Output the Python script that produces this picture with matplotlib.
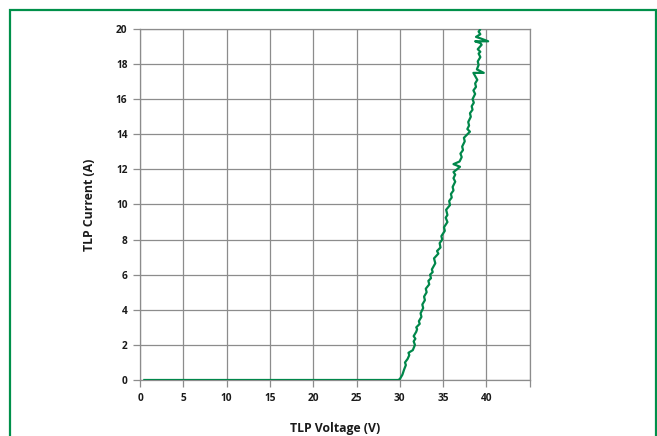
import matplotlib
matplotlib.use("Agg")
import matplotlib.pyplot as plt
from matplotlib.patches import Rectangle

# TLP I-V curve data
voltage = [0.5, 29.8, 30.0, 30.3, 30.5, 30.7, 30.6, 30.9, 31.1, 31.0, 31.5, 31.75, 31.6, 31.8, 31.6,
           31.9, 32.0, 31.9, 32.3, 32.2, 32.5, 32.4, 32.7, 32.6, 32.9, 32.8, 33.1, 33.0, 33.4, 33.3,
           33.6, 33.5, 33.8, 33.7, 34.1, 33.95, 34.45, 34.3, 34.7, 34.6, 34.9, 34.8, 35.2, 35.1, 35.5,
           35.3, 35.5, 35.35, 35.8, 35.7, 36.0, 35.9, 36.2, 36.1, 36.4, 36.2, 36.4, 36.2, 36.6, 36.95,
           36.2, 36.9, 37.15, 37.0, 37.3, 37.2, 37.5, 37.4, 37.7, 38.1, 37.8, 38.0, 37.9, 38.2, 38.1,
           38.4, 38.3, 38.55, 38.4, 38.7, 38.5, 38.8, 38.7, 38.95, 38.5, 39.7, 38.9, 39.1, 39.0, 39.3,
           39.1, 39.3, 39.0, 39.45, 39.3, 38.7, 40.2, 39.4, 38.8, 39.3, 39.1, 39.25]
current = [0.0, 0.0, 0.05, 0.3, 0.6, 0.85, 1.0, 1.2, 1.42, 1.55, 1.7, 2.0, 2.2, 2.35, 2.5,
           2.75, 2.9, 3.0, 3.2, 3.35, 3.6, 3.8, 4.1, 4.3, 4.55, 4.75, 5.0, 5.2, 5.45, 5.65,
           5.8, 6.0, 6.15, 6.3, 6.65, 6.93, 7.2, 7.35, 7.55, 7.8, 8.0, 8.2, 8.5, 8.7, 9.0,
           9.25, 9.4, 9.7, 9.97, 10.2, 10.4, 10.6, 10.8, 11.0, 11.3, 11.5, 11.7, 11.85, 12.0, 12.15,
           12.3, 12.45, 12.7, 12.9, 13.1, 13.3, 13.6, 13.8, 13.95, 14.15, 14.3, 14.5, 14.7, 15.0, 15.2,
           15.4, 15.6, 15.8, 16.0, 16.3, 16.5, 16.7, 16.9, 17.1, 17.5, 17.5, 17.7, 17.95, 18.15, 18.4,
           18.6, 18.7, 18.85, 19.1, 19.2, 19.3, 19.3, 19.45, 19.55, 19.7, 19.85, 19.95]

x_ticks = [0, 5, 10, 15, 20, 25, 30, 35, 40, 45]
x_tick_labels = ["0", "5", "10", "15", "20", "25", "30", "35", "40", ""]
y_ticks = [0, 2, 4, 6, 8, 10, 12, 14, 16, 18, 20]
x_label = "TLP Voltage (V)"
y_label = "TLP Current (A)"

plt.rcParams['font.family'] = ['Open Sans', 'DejaVu Sans']

W, H = 657, 436
fig = plt.figure(figsize=(W / 100, H / 100), dpi=100)
ax = fig.add_axes([140 / W, 1 - 380 / H, (529.7 - 140) / W, (380 - 29) / H])

grid_col = '#8c8c8c'
line_col = '#00874a'

ax.plot(voltage, current, color=line_col, lw=1.6, solid_joinstyle='round', zorder=3)

ax.set_xlim(0, 45)
ax.set_ylim(0, 20)
ax.set_xticks(x_ticks)
ax.set_xticklabels(x_tick_labels)
ax.set_yticks(y_ticks)
ax.grid(True, color=grid_col, lw=0.9)
ax.set_axisbelow(True)
for s in ax.spines.values():
    s.set_color(grid_col)
    s.set_linewidth(0.9)
ax.tick_params(direction='out', length=5, width=0.9, color=grid_col,
               labelsize=7.3, labelcolor='#1a1a1a', pad=4)
for lab in ax.get_xticklabels() + ax.get_yticklabels():
    lab.set_fontweight('bold')

ax.set_xlabel(x_label, fontsize=8.8, fontweight='bold', color='#1a1a1a', labelpad=13)
ax.set_ylabel(y_label, fontsize=8.8, fontweight='bold', color='#1a1a1a', labelpad=14)

border = Rectangle((10 / W, -0.1), (656 - 10) / W, (H - 10) / H + 0.1,
                   transform=fig.transFigure, fill=False, edgecolor='#00904a',
                   lw=1.6, clip_on=False)
fig.patches.append(border)

fig.savefig("out.png", dpi=100)
